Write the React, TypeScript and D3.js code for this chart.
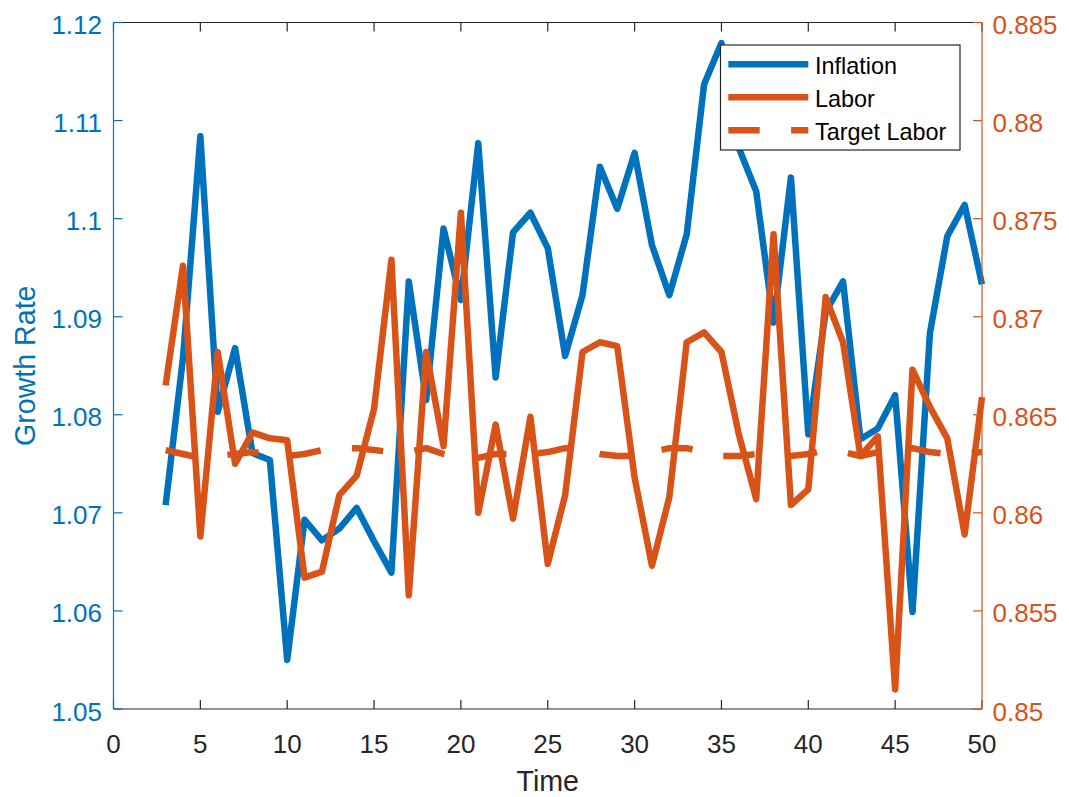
import React from "react"
import * as d3 from "d3"

const time = [
  3, 4, 5, 6, 7, 8, 9, 10, 11, 12, 13, 14, 15, 16, 17, 18, 19, 20, 21, 22, 23, 24, 25, 26,
  27, 28, 29, 30, 31, 32, 33, 34, 35, 36, 37, 38, 39, 40, 41, 42, 43, 44, 45, 46, 47, 48, 49, 50
]

const inflation = [
  1.0708, 1.0858, 1.1084, 1.0803, 1.0868, 1.0761, 1.0754, 1.055, 1.0693, 1.0672, 1.0684, 1.0705,
  1.0671, 1.0639, 1.0936, 1.0815, 1.099, 1.0917, 1.1077, 1.0838, 1.0986, 1.1006, 1.097, 1.086,
  1.0922, 1.1053, 1.101, 1.1067, 1.0973, 1.0922, 1.0984, 1.1137, 1.1179, 1.1072, 1.1028, 1.0894,
  1.1042, 1.078, 1.0905, 1.0936, 1.0775, 1.0786, 1.082, 1.0599, 1.0883, 1.0982, 1.1014, 1.0933
]

const labor = [
  0.8665, 0.8726, 0.8588, 0.8682, 0.8625, 0.8641, 0.8638, 0.8637, 0.8567, 0.857, 0.8609, 0.8619,
  0.8653, 0.8729, 0.8558, 0.8682, 0.8634, 0.8753, 0.86, 0.8645, 0.8597, 0.8649, 0.8574, 0.8609,
  0.8682, 0.8687, 0.8685, 0.8618, 0.8573, 0.8608, 0.8687, 0.8692, 0.8682, 0.864, 0.8607, 0.8742,
  0.8604, 0.8612, 0.871, 0.8687, 0.8629, 0.8639, 0.851, 0.8673, 0.8654, 0.8638, 0.8589, 0.8659
]

const targetLabor = [
  0.8632, 0.863, 0.8628, 0.8629, 0.863, 0.8631, 0.863, 0.8629, 0.863, 0.8632, 0.8633, 0.8633,
  0.8632, 0.8631, 0.8631, 0.8633, 0.863, 0.8628, 0.8628, 0.863, 0.863, 0.863, 0.8631, 0.8633,
  0.8632, 0.863, 0.8629, 0.8629, 0.8631, 0.8633, 0.8633, 0.8631, 0.8629, 0.8629, 0.863, 0.863,
  0.8629, 0.863, 0.8632, 0.8631, 0.8629, 0.8631, 0.8632, 0.8633, 0.8631, 0.863, 0.863, 0.8631
]

const xTicks = [0, 5, 10, 15, 20, 25, 30, 35, 40, 45, 50]
const leftTicks = [1.05, 1.06, 1.07, 1.08, 1.09, 1.1, 1.11, 1.12]
const rightTicks = [0.85, 0.855, 0.86, 0.865, 0.87, 0.875, 0.88, 0.885]
const legendLabels = ["Inflation", "Labor", "Target Labor"]

const W = 1069
const H = 797
const left = 113.5
const right = 982
const top = 22.5
const bottom = 709

const BLUE = "#0072BD"
const ORANGE = "#D95319"
const DARK = "#262626"
const FONT = "'Liberation Sans', Arial, Helvetica, sans-serif"
const TICK = 9

export default function App() {
  const x = d3.scaleLinear().domain( [ 0, 50 ] ).range( [ left, right ] )
  const yL = d3.scaleLinear().domain( [ 1.05, 1.12 ] ).range( [ bottom, top ] )
  const yR = d3.scaleLinear().domain( [ 0.85, 0.885 ] ).range( [ bottom, top ] )

  const lineL = d3.line<number>().x( ( d, i ) => x( time[ i ] ) ).y( d => yL( d ) )
  const lineR = d3.line<number>().x( ( d, i ) => x( time[ i ] ) ).y( d => yR( d ) )

  const series = [
    { path: lineL( inflation ), color: BLUE, dash: undefined },
    { path: lineR( labor ), color: ORANGE, dash: undefined },
    { path: lineR( targetLabor ), color: ORANGE, dash: "31.4 31.4" }
  ]

  // legend box
  const lgX = 720.5
  const lgY = 45
  const rowY = [ 64.3, 97.3, 130.3 ]

  return (
    <svg
      width={W}
      height={H}
      style={{ position: "absolute", left: 0, top: 0, background: "#fff" }}
      fontFamily={FONT}
    >
      <rect x={0} y={0} width={W} height={H} fill="#fff" />

      {series.map( ( s, i ) => (
        <path
          key={i}
          d={s.path || ""}
          fill="none"
          stroke={s.color}
          strokeWidth={6.5}
          strokeLinejoin="round"
          strokeLinecap="butt"
          strokeDasharray={s.dash}
        />
      ) )}

      {/* x axis bottom + top */}
      <line x1={left} x2={right} y1={bottom} y2={bottom} stroke={DARK} strokeWidth={1.2} />
      <line x1={left} x2={right} y1={top} y2={top} stroke={DARK} strokeWidth={1.2} />
      {xTicks.map( t => (
        <g key={t}>
          <line x1={x( t )} x2={x( t )} y1={bottom} y2={bottom - TICK} stroke={DARK} strokeWidth={1.2} />
          <line x1={x( t )} x2={x( t )} y1={top} y2={top + TICK} stroke={DARK} strokeWidth={1.2} />
          <text x={x( t )} y={bottom + 43.5} textAnchor="middle" fontSize={26} fill={DARK}>
            {t}
          </text>
        </g>
      ) )}

      {/* left axis */}
      <line x1={left} x2={left} y1={top} y2={bottom} stroke={BLUE} strokeWidth={1.2} />
      {leftTicks.map( t => (
        <g key={t}>
          <line x1={left} x2={left + TICK} y1={yL( t )} y2={yL( t )} stroke={BLUE} strokeWidth={1.2} />
          <text x={102} y={yL( t ) + 11.5} textAnchor="end" fontSize={26} fill={BLUE}>
            {String( t )}
          </text>
        </g>
      ) )}

      {/* right axis */}
      <line x1={right} x2={right} y1={top} y2={bottom} stroke={ORANGE} strokeWidth={1.2} />
      {rightTicks.map( t => (
        <g key={t}>
          <line x1={right} x2={right - TICK} y1={yR( t )} y2={yR( t )} stroke={ORANGE} strokeWidth={1.2} />
          <text x={992.5} y={yR( t ) + 11.5} textAnchor="start" fontSize={26} fill={ORANGE}>
            {String( t )}
          </text>
        </g>
      ) )}

      <text x={( left + right ) / 2} y={791} textAnchor="middle" fontSize={28.6} fill={DARK}>
        Time
      </text>
      <text
        transform={`translate(35,${ ( top + bottom ) / 2 }) rotate(-90)`}
        textAnchor="middle"
        fontSize={28.6}
        fill={BLUE}
      >
        Growth Rate
      </text>

      <rect x={lgX} y={lgY} width={239.5} height={105} fill="#fff" stroke={DARK} strokeWidth={1.2} />
      {legendLabels.map( ( label, i ) => (
        <g key={label}>
          <line
            x1={728.3}
            x2={808.3}
            y1={rowY[ i ]}
            y2={rowY[ i ]}
            stroke={series[ i ].color}
            strokeWidth={6.5}
            strokeDasharray={series[ i ].dash}
          />
          <text x={815} y={rowY[ i ] + 10} fontSize={23.4} fill="#000">
            {label}
          </text>
        </g>
      ) )}
    </svg>
  )
}
